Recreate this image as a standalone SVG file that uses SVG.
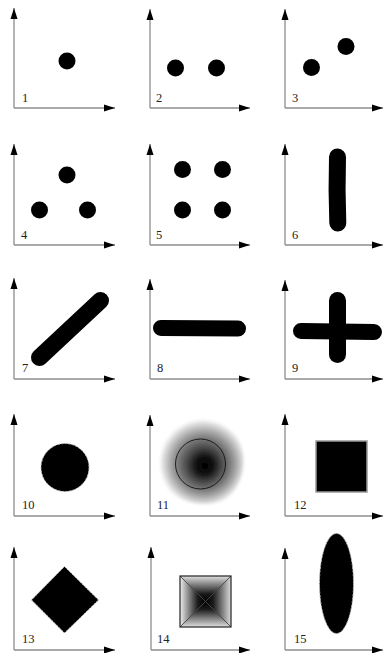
<svg xmlns="http://www.w3.org/2000/svg" width="383" height="653" viewBox="0 0 383 653">
<style>
.ax{stroke:#8c8c8c;stroke-width:1.3;fill:none;marker-end:url(#ar)}
.lb{font-family:"Liberation Serif",serif;font-size:12.5px;fill:#222}
.dot{fill:#000}
.bar{stroke:#000;stroke-linecap:round;fill:none}
</style>
<defs>
<marker id="ar" markerUnits="userSpaceOnUse" markerWidth="12" markerHeight="8" refX="11" refY="3.5" orient="auto" viewBox="0 0 12 7"><path d="M11 3.5 L0 0 L0 7 Z" fill="#000"/></marker>
<radialGradient id="halo" gradientUnits="userSpaceOnUse" cx="203" cy="463" r="44" fx="205" fy="466">
<stop offset="0" stop-color="#000"/>
<stop offset="0.2" stop-color="#111"/>
<stop offset="0.42" stop-color="#505050"/>
<stop offset="0.58" stop-color="#787878"/>
<stop offset="0.72" stop-color="#a0a0a0"/>
<stop offset="0.88" stop-color="#d4d4d4"/>
<stop offset="1" stop-color="#fff"/>
</radialGradient>
<filter id="fz" x="-20%" y="-20%" width="140%" height="140%"><feGaussianBlur stdDeviation="1.5"/></filter>
<linearGradient id="gt" gradientUnits="userSpaceOnUse" x1="0" y1="576" x2="0" y2="601.5"><stop offset="0" stop-color="#e0e0e0"/><stop offset="0.7" stop-color="#1a1a1a"/><stop offset="1" stop-color="#000"/></linearGradient>
<linearGradient id="gb" gradientUnits="userSpaceOnUse" x1="0" y1="627" x2="0" y2="601.5"><stop offset="0" stop-color="#e0e0e0"/><stop offset="0.7" stop-color="#1a1a1a"/><stop offset="1" stop-color="#000"/></linearGradient>
<linearGradient id="gl" gradientUnits="userSpaceOnUse" x1="180" y1="0" x2="205.5" y2="0"><stop offset="0" stop-color="#eeeeee"/><stop offset="0.7" stop-color="#1a1a1a"/><stop offset="1" stop-color="#000"/></linearGradient>
<linearGradient id="gr" gradientUnits="userSpaceOnUse" x1="231" y1="0" x2="205.5" y2="0"><stop offset="0" stop-color="#dcdcdc"/><stop offset="0.7" stop-color="#1a1a1a"/><stop offset="1" stop-color="#000"/></linearGradient>
</defs>
<rect width="383" height="653" fill="#fff"/>

<g id="axes">
<g id="axes-row1">
<path class="ax" d="M14 108 V8"/><path class="ax" d="M14 108 H115"/>
<path class="ax" d="M150 108 V9"/><path class="ax" d="M150 108 H250"/>
<path class="ax" d="M285 108 V9"/><path class="ax" d="M285 108 H383"/>
</g>
<g id="axes-row2">
<path class="ax" d="M14 245 V144"/><path class="ax" d="M14 245 H115"/>
<path class="ax" d="M150 245 V144"/><path class="ax" d="M150 245 H250"/>
<path class="ax" d="M285 245 V144"/><path class="ax" d="M285 245 H383"/>
</g>
<g id="axes-row3">
<path class="ax" d="M14 379 V278"/><path class="ax" d="M14 379 H115"/>
<path class="ax" d="M150 379 V279"/><path class="ax" d="M150 379 H250"/>
<path class="ax" d="M285 379 V280"/><path class="ax" d="M285 379 H383"/>
</g>
<g id="axes-row4">
<path class="ax" d="M14 516 V414"/><path class="ax" d="M14 516 H115"/>
<path class="ax" d="M150 516 V415"/><path class="ax" d="M150 516 H250"/>
<path class="ax" d="M285 516 V414"/><path class="ax" d="M285 516 H383"/>
</g>
<g id="axes-row5">
<path class="ax" d="M14 650 V547"/><path class="ax" d="M14 650 H115"/>
<path class="ax" d="M151 650 V547"/><path class="ax" d="M151 650 H250"/>
<path class="ax" d="M285 650 V548"/><path class="ax" d="M285 650 H383"/>
</g>
</g>

<g id="p1"><circle class="dot" cx="67" cy="61" r="8.5"/><text class="lb" x="22" y="102">1</text></g>
<g id="p2"><circle class="dot" cx="175.5" cy="68" r="8.5"/><circle class="dot" cx="216.5" cy="68" r="8.5"/><text class="lb" x="156" y="102">2</text></g>
<g id="p3"><circle class="dot" cx="311.5" cy="67.5" r="8.5"/><circle class="dot" cx="346" cy="46.5" r="8.5"/><text class="lb" x="292" y="102">3</text></g>

<g id="p4"><circle class="dot" cx="39.5" cy="210" r="8.5"/><circle class="dot" cx="67" cy="175" r="8.5"/><circle class="dot" cx="87.5" cy="210" r="8.5"/><text class="lb" x="21" y="239">4</text></g>
<g id="p5"><circle class="dot" cx="182.5" cy="169.5" r="8.5"/><circle class="dot" cx="222.5" cy="169.5" r="8.5"/><circle class="dot" cx="182.5" cy="210" r="8.5"/><circle class="dot" cx="222.5" cy="210" r="8.5"/><text class="lb" x="156" y="239">5</text></g>
<g id="p6"><path class="bar" stroke-width="17" d="M337.5 157 Q336.5 190 337.8 223"/><text class="lb" x="292" y="239">6</text></g>

<g id="p7"><path class="bar" stroke-width="17" d="M39.5 357.5 L100.5 300.5"/><text class="lb" x="22" y="372">7</text></g>
<g id="p8"><path class="bar" stroke-width="16" d="M161 328 L238 328.5"/><text class="lb" x="157" y="372">8</text></g>
<g id="p9"><path class="bar" stroke-width="16" d="M301 331 L374 332"/><path class="bar" stroke-width="17" d="M337.5 300.5 L337.5 354.5"/><text class="lb" x="292" y="372">9</text></g>

<g id="p10"><circle cx="65" cy="467.5" r="24" fill="#000" stroke="#bbb" stroke-width="1" stroke-dasharray="2 1.5"/><text class="lb" x="22" y="509">10</text></g>
<g id="p11"><path d="M201 419 C222 420 238 432 242 448 C247 468 240 492 222 501 C203 508 178 503 167 488 C157 474 158 448 170 433 C178 423 190 419 201 419 Z" fill="url(#halo)" filter="url(#fz)"/><circle cx="200.5" cy="464" r="25" fill="none" stroke="#111" stroke-width="0.9"/><text class="lb" x="157" y="509">11</text></g>
<g id="p12"><rect x="316" y="441" width="51" height="51" fill="#000" stroke="#999" stroke-width="1.5"/><text class="lb" x="294" y="509">12</text></g>

<g id="p13"><path d="M64.5 566.5 L98.5 600 L64.5 633 L31.5 600 Z" fill="#000" stroke="#bbb" stroke-width="1" stroke-dasharray="2 1.5"/><text class="lb" x="22" y="643">13</text></g>
<g id="p14">
<path d="M180 576 H231 L205.5 601.5 Z" fill="url(#gt)"/>
<path d="M180 627 H231 L205.5 601.5 Z" fill="url(#gb)"/>
<path d="M180 576 V627 L205.5 601.5 Z" fill="url(#gl)"/>
<path d="M231 576 V627 L205.5 601.5 Z" fill="url(#gr)"/>
<path d="M180 576 L231 627 M231 576 L180 627" stroke="#444" stroke-width="0.9"/>
<rect x="180" y="576" width="51" height="51" fill="none" stroke="#222" stroke-width="1.2"/>
<text class="lb" x="157" y="643">14</text>
</g>
<g id="p15"><ellipse cx="336.5" cy="583.5" rx="17" ry="50" fill="#000" stroke="#bbb" stroke-width="1" stroke-dasharray="2 1.5"/><text class="lb" x="294" y="643">15</text></g>
</svg>
